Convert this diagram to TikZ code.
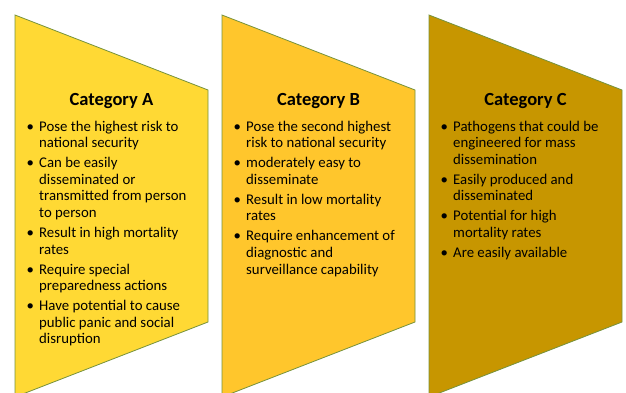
\documentclass[tikz,border=0pt]{standalone}
\usepackage{fontspec}
\setmainfont{Carlito}
\usepackage{array}
\definecolor{catA}{RGB}{255,217,52}
\definecolor{catB}{RGB}{255,198,44}
\definecolor{catC}{RGB}{199,150,0}
\definecolor{edge}{RGB}{118,146,60}
\newcommand\bul{\textbullet}
\begin{document}
\begin{tikzpicture}[x=1pt,y=-1pt,
  chev/.style={draw=edge, line width=0.8pt},
  cattitle/.style={font=\fontsize{18.5}{21}\selectfont\bfseries, anchor=base, inner sep=0pt},
  catlist/.style={anchor=base west, inner sep=0pt, font=\fontsize{14.8}{16.6}\selectfont}]
\useasboundingbox (0,0) rectangle (626,392);
\clip (0,0) rectangle (626,392);
% shapes
\filldraw[chev, fill=catA] (15,15) -- (208,90) -- (208,322) -- (15,397) -- cycle;
\filldraw[chev, fill=catB] (222,15) -- (415,90) -- (415,322) -- (222,397) -- cycle;
\filldraw[chev, fill=catC] (429,15) -- (622,90) -- (622,322) -- (429,397) -- cycle;
% titles
\node[cattitle] (tA) at (111.5,105.5) {Category A};
\node[cattitle] (tB) at (318.5,105.5) {Category B};
\node[cattitle] (tC) at (525.5,105.5) {Category C};
% lists
\node[catlist] (lA) at (26.5,131) {\begin{tabular}[t]{@{}p{12.5pt}@{}l@{}}
\bul & Pose the highest risk to\\
 & national security\\[3.4pt]
\bul & Can be easily\\
 & disseminated or\\
 & transmitted from person\\
 & to person\\[3.4pt]
\bul & Result in high mortality\\
 & rates\\[3.4pt]
\bul & Require special\\
 & preparedness actions\\[3.4pt]
\bul & Have potential to cause\\
 & public panic and social\\
 & disruption
\end{tabular}};
\node[catlist] (lB) at (233.5,131) {\begin{tabular}[t]{@{}p{12.5pt}@{}l@{}}
\bul & Pose the second highest\\
 & risk to national security\\[3.4pt]
\bul & moderately easy to\\
 & disseminate\\[3.4pt]
\bul & Result in low mortality\\
 & rates\\[3.4pt]
\bul & Require enhancement of\\
 & diagnostic and\\
 & surveillance capability
\end{tabular}};
\node[catlist] (lC) at (440.5,131) {\begin{tabular}[t]{@{}p{12.5pt}@{}l@{}}
\bul & Pathogens that could be\\
 & engineered for mass\\
 & dissemination\\[3.4pt]
\bul & Easily produced and\\
 & disseminated\\[3.4pt]
\bul & Potential for high\\
 & mortality rates\\[3.4pt]
\bul & Are easily available
\end{tabular}};
\end{tikzpicture}
\end{document}
